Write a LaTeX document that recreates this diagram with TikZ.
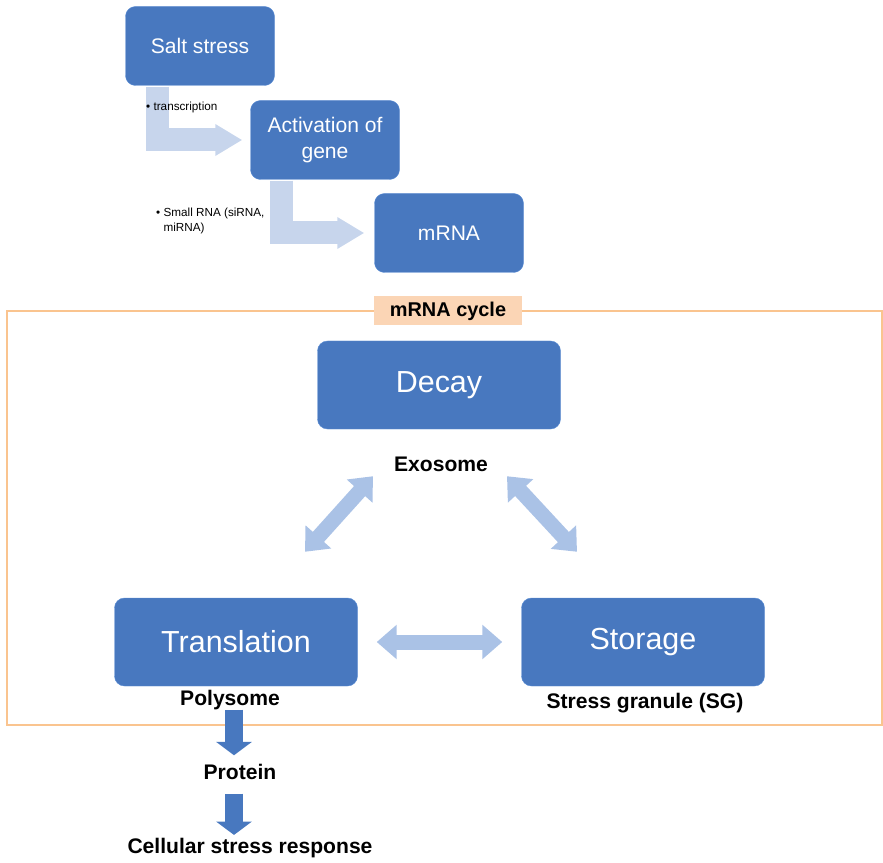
\documentclass[tikz,border=0pt]{standalone}
\usepackage{fontspec}
\setmainfont{Liberation Sans}
\usetikzlibrary{arrows.meta}

\definecolor{boxblue}{HTML}{4878BF}
\definecolor{boxedge}{HTML}{5C8ED4}
\definecolor{paleblue}{HTML}{C7D5EC}
\definecolor{dblblue}{HTML}{AAC2E6}
\definecolor{framecol}{HTML}{FAC48F}
\definecolor{tagfill}{HTML}{FBD5B5}

\begin{document}
\begin{tikzpicture}[
  x=0.3mm, y=-0.3mm,
  box/.style={draw=boxedge, fill=boxblue, rounded corners=3mm, text=white,
              align=center, minimum width=4.47cm, minimum height=2.37cm,
              font=\fontsize{18}{21.6}\selectfont},
  bigbox/.style={box, minimum width=7.29cm, minimum height=2.64cm,
                 font=\fontsize{26}{30}\selectfont},
  lbl/.style={inner sep=0pt, text height=4.5mm, text depth=1.2mm,
              font=\fontsize{18}{21.6}\selectfont\bfseries},
  tag/.style={fill=tagfill, minimum width=4.44cm, minimum height=0.87cm,
              font=\fontsize{17}{20}\selectfont\bfseries},
  note/.style={inner sep=0pt, align=left, font=\fontsize{10}{12.5}\selectfont},
  bent/.style={draw=paleblue, line width=6.9mm, -{Triangle[length=8.1mm, width=9mm]}},
  dbl/.style={draw=dblblue, line width=4.5mm,
              {Triangle[length=6mm, width=10mm]}-{Triangle[length=6mm, width=10mm]}},
  down/.style={draw=boxblue, line width=5.4mm, -{Triangle[length=4mm, width=10.5mm]}}
]
  \useasboundingbox (0,0) rectangle (883,863);

  % Top chain
  \node[box] (salt) at (200,46) {Salt stress};
  \node[box] (gene) at (325,140) {Activation of\\gene};
  \node[box] (mrna) at (449,233) {mRNA};

  \draw[bent, shorten >=2.4mm] ([shift={(-43,1)}]salt.south) |- (gene.west);
  \draw[bent, shorten >=3mm] ([shift={(-44,1)}]gene.south) |- (mrna.west);

  \node[note, anchor=west] (trnote) at (146,107) {\textbullet\ transcription};
  \node[note, anchor=north west] (rnanote) at (156,208)
    {\textbullet\ Small RNA (siRNA,\\\hphantom{\textbullet\ }miRNA)};

  % mRNA cycle frame
  \draw[framecol, line width=0.6mm] (7,311) rectangle (882,725);
  \node[tag] (cycle) at (448,311) {mRNA cycle};

  \node[bigbox] (decay) at (439,385) {Decay};
  \node[bigbox] (trans) at (236,642) {Translation};
  \node[bigbox] (stor) at (643,642) {Storage};

  \node[lbl] (exo) at (441,466) {Exosome};
  \node[lbl] (poly) at (230,700) {Polysome};
  \node[lbl] (sg) at (645,703) {Stress granule (SG)};

  % Cycle arrows
  \draw[dbl] ([shift={(69,-46)}]trans.north) -- ([shift={(-66,47)}]decay.south);
  \draw[dbl] ([shift={(68,47)}]decay.south) -- ([shift={(-66,-46)}]stor.north);
  \draw[dbl, shorten <=5.7mm, shorten >=5.7mm] (trans.east) -- (stor.west);

  % Output
  \node[lbl] (prot) at (240,774) {Protein};
  \node[lbl] (resp) at (250,848) {Cellular stress response};

  \draw[down, shorten >=2.7mm] ([shift={(4,0)}]poly.south) -- ([shift={(-6,0)}]prot.north);
  \draw[down, shorten <=3mm, shorten >=1mm] ([shift={(-6,0)}]prot.south) -- ([shift={(-16,0)}]resp.north);
\end{tikzpicture}
\end{document}
